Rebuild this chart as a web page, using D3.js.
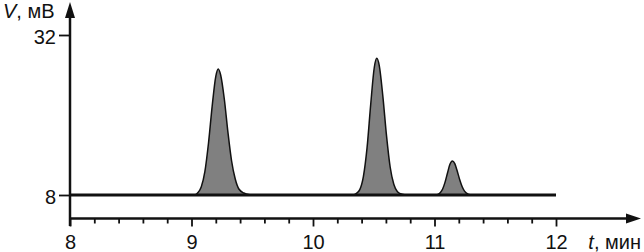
<!DOCTYPE html>
<html><head><meta charset="utf-8">
<script src="https://cdn.jsdelivr.net/npm/d3@7"></script>
<style>
html,body{margin:0;padding:0;background:#fff;}
svg{display:block;font-family:"Liberation Sans",Arial,sans-serif;}
</style></head>
<body>
<svg id="c" width="644" height="252"></svg>
<script>
// Data (t in min, V in mV)
const peak1 = [[9.03,8.0],[9.05,8.3],[9.08,9.2],[9.11,11.5],[9.14,15.8],[9.17,21.3],[9.20,25.8],[9.22,26.9],[9.24,26.0],[9.27,22.4],[9.30,17.4],[9.33,13.1],[9.36,10.4],[9.39,8.9],[9.43,8.3],[9.48,8.05],[9.52,8.0]];
const peak2 = [[10.33,8.0],[10.355,8.2],[10.385,8.8],[10.415,10.8],[10.445,15.1],[10.475,21.6],[10.505,27.2],[10.525,28.5],[10.545,27.45],[10.575,22.8],[10.605,16.9],[10.635,12.2],[10.665,9.6],[10.695,8.5],[10.735,8.1],[10.78,8.0]];
const peak3 = [[11.02,8.0],[11.047,8.34],[11.067,8.9],[11.087,9.93],[11.107,11.3],[11.127,12.6],[11.147,13.1],[11.167,12.7],[11.187,11.6],[11.207,10.33],[11.227,9.27],[11.247,8.58],[11.277,8.13],[11.31,8.0]];
const peaks = [peak1, peak2, peak3];
const baselineV = 8;
const tRange = [8, 12];
const xMajor = [8, 9, 10, 11, 12];
const xMinor = [8.2,8.4,8.6,8.8,9.2,9.4,9.6,9.8,10.2,10.4,10.6,10.8,11.2,11.4,11.6,11.8];
const yTicks = [8, 32];

const svg = d3.select("#c");
const x = d3.scaleLinear().domain([8, 12]).range([70, 556]);
const y = d3.scaleLinear().domain([8, 32]).range([195, 35]);
const axisY = 218.5, axisX = 70;

// peaks
const area = d3.area().x(d => x(d[0])).y0(y(baselineV)).y1(d => y(d[1])).curve(d3.curveMonotoneX);
const line = d3.line().x(d => x(d[0])).y(d => y(d[1])).curve(d3.curveMonotoneX);
svg.selectAll("path.pk").data(peaks).join("path").attr("class","pk")
  .attr("d", area).attr("fill", "#808080");
svg.selectAll("path.pkl").data(peaks).join("path").attr("class","pkl")
  .attr("d", line).attr("fill", "none").attr("stroke", "#111").attr("stroke-width", 1.5);

// baseline
svg.append("line").attr("x1", x(tRange[0])).attr("x2", x(tRange[1]))
  .attr("y1", y(baselineV)).attr("y2", y(baselineV))
  .attr("stroke", "#111").attr("stroke-width", 2.8);

// x axis
const gx = svg.append("g").attr("transform", `translate(0,${axisY})`);
gx.call(d3.axisBottom(x).tickValues(xMajor).tickSize(8).tickPadding(8).tickFormat(d3.format("d")));
const gxm = svg.append("g").attr("transform", `translate(0,${axisY})`);
gxm.call(d3.axisBottom(x).tickValues(xMinor).tickSize(5).tickFormat(""));
[gx, gxm].forEach(g => {
  g.select(".domain").remove();
  g.selectAll(".tick line").attr("stroke", "#111").attr("stroke-width", 1.8);
});
gx.selectAll(".tick text").attr("font-size", 20).attr("fill", "#111");
svg.append("line").attr("x1", axisX).attr("x2", 628).attr("y1", axisY).attr("y2", axisY)
  .attr("stroke", "#111").attr("stroke-width", 2.5);
svg.append("path").attr("d", `M641,${axisY}L626,${axisY-5}L626,${axisY+5}Z`).attr("fill", "#111");

// y axis
const gy = svg.append("g").attr("transform", `translate(${axisX},0)`);
gy.call(d3.axisLeft(y).tickValues(yTicks).tickSize(11).tickPadding(3).tickFormat(d3.format("d")));
gy.select(".domain").remove();
gy.selectAll(".tick line").attr("stroke", "#111").attr("stroke-width", 1.8);
gy.selectAll(".tick text").attr("font-size", 20).attr("fill", "#111").attr("dy", "0.42em");
svg.append("line").attr("x1", axisX).attr("x2", axisX).attr("y1", 16).attr("y2", 226)
  .attr("stroke", "#111").attr("stroke-width", 2.5);
svg.append("path").attr("d", `M${axisX},2L${axisX-5},18L${axisX+5},18Z`).attr("fill", "#111");

// axis titles
const ty = svg.append("text").attr("x", 3).attr("y", 18).attr("font-size", 20).attr("fill", "#111");
ty.append("tspan").attr("font-style", "italic").text("V");
ty.append("tspan").text(", мВ");
const tx = svg.append("text").attr("x", 641).attr("y", 249).attr("text-anchor", "end").attr("font-size", 20).attr("fill", "#111");
tx.append("tspan").attr("font-style", "italic").text("t");
tx.append("tspan").text(", мин");
</script>
</body></html>
